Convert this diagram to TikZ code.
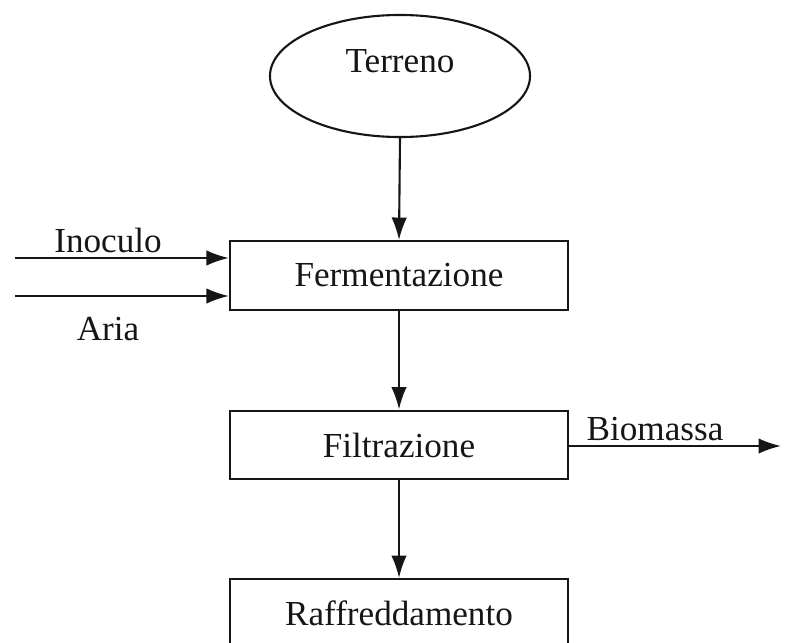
\documentclass[tikz,border=0pt]{standalone}
\usepackage{fontspec}
\setmainfont{Liberation Serif}
\usepackage{xcolor}
\usepackage{tikz}
\usetikzlibrary{arrows.meta,positioning,shapes.geometric}
\definecolor{FlowInk}{HTML}{161616}

\begin{document}
\begin{tikzpicture}[x=0.025cm,y=-0.025cm,>={Latex[length=16pt,width=11pt]},
    flowline/.style={FlowInk,line width=1.5pt},
    procbox/.style={flowline,draw,rectangle,minimum width=8.45cm,minimum height=1.72cm,
      inner sep=0pt,font=\fontsize{25}{30}\selectfont},
    feedoval/.style={flowline,draw,ellipse,minimum width=6.5cm,minimum height=3.05cm,
      inner sep=0pt,text depth=22pt,font=\fontsize{25}{30}\selectfont},
    streamlab/.style={FlowInk,anchor=base,inner sep=0pt,font=\fontsize{25}{30}\selectfont}]
  \clip (0,0) rectangle (789,643);
  \node[feedoval] (terreno) at (400,76) {Terreno};
  \node[procbox] (ferm) at (399,275.5) {Fermentazione};
  \node[procbox] (filt) at (399,445) {Filtrazione};
  \node[procbox] (raff) at (399,613.5) {Raffreddamento};
  \coordinate (inoc) at (15,258);
  \coordinate (aria) at (15,296);
  \coordinate (biom) at (781,446);
  \draw[flowline,->] (terreno.south) -- (ferm.north);
  \draw[flowline,->] (ferm.south) -- (filt.north);
  \draw[flowline,->] (filt.south) -- (raff.north);
  \draw[flowline,->] (inoc) -- (ferm.west |- inoc);
  \draw[flowline,->] (aria) -- (ferm.west |- aria);
  \draw[flowline,->] (filt.east |- biom) -- (biom);
  \node[streamlab] (inoclab) at (108,252) {Inoculo};
  \node[streamlab] (arialab) at (108,340) {Aria};
  \node[streamlab] (biomlab) at (655,440) {Biomassa};
\end{tikzpicture}
\end{document}
